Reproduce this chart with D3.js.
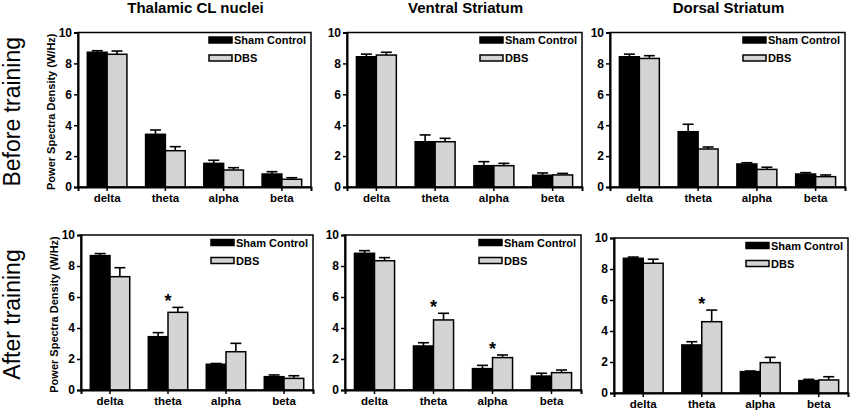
<!DOCTYPE html>
<html>
<head>
<meta charset="UTF-8">
<script src="https://d3js.org/d3.v7.min.js"></script>
<style>
  body { margin: 0; background: #fff; }
  text { font-family: Arial, "Liberation Sans", sans-serif; fill: #000; }
</style>
</head>
<body>
<svg id="chart" width="851" height="413"></svg>
<script>
// data
const bands = ["delta", "theta", "alpha", "beta"];
const regions = ["Thalamic CL nuclei", "Ventral Striatum", "Dorsal Striatum"];
const phases = ["Before training", "After training"];
const groups = ["Sham Control", "DBS"];
const yTicks = [0, 2, 4, 6, 8, 10];

// [region][band]
const shamBefore    = [[8.72, 3.41, 1.53, 0.84], [8.43, 2.93, 1.38, 0.76], [8.43, 3.58, 1.49, 0.84]];
const shamBeforeErr = [[0.10, 0.28, 0.20, 0.15], [0.17, 0.44, 0.26, 0.15], [0.17, 0.48, 0.08, 0.09]];
const dbsBefore     = [[8.59, 2.35, 1.10, 0.50], [8.54, 2.93, 1.38, 0.78], [8.32, 2.46, 1.14, 0.67]];
const dbsBeforeErr  = [[0.21, 0.26, 0.15, 0.10], [0.18, 0.22, 0.15, 0.10], [0.18, 0.13, 0.14, 0.11]];
const shamAfter     = [[8.67, 3.44, 1.66, 0.86], [8.82, 2.84, 1.38, 0.90], [8.69, 3.10, 1.38, 0.80]];
const shamAfterErr  = [[0.13, 0.26, 0.05, 0.11], [0.17, 0.21, 0.21, 0.18], [0.08, 0.21, 0.04, 0.08]];
const dbsAfter      = [[7.31, 5.01, 2.47, 0.75], [8.34, 4.52, 2.09, 1.12], [8.37, 4.60, 1.96, 0.84]];
const dbsAfterErr   = [[0.58, 0.32, 0.54, 0.17], [0.20, 0.43, 0.17, 0.17], [0.26, 0.75, 0.34, 0.21]];

// significance marks: [phase, region, band]
const stars = [[1, 0, "theta"], [1, 1, "theta"], [1, 1, "alpha"], [1, 2, "theta"]];

const svg = d3.select("#chart");

// plot boxes [row][col]
const boxes = [
  [{x0: 78, x1: 311, y0: 32.5, y1: 187}, {x0: 347, x1: 582, y0: 32.5, y1: 187}, {x0: 610, x1: 845, y0: 32.5, y1: 187}],
  [{x0: 81, x1: 313, y0: 235, y1: 390}, {x0: 345, x1: 581, y0: 235, y1: 390}, {x0: 614, x1: 848, y0: 238, y1: 393}]
];

const means = [[shamBefore, dbsBefore], [shamAfter, dbsAfter]];
const errs = [[shamBeforeErr, dbsBeforeErr], [shamAfterErr, dbsAfterErr]];
const fills = ["#000", "#d4d4d4"];

// row labels
phases.forEach((p, r) => {
  const b = boxes[r][0];
  svg.append("text")
    .attr("transform", `translate(20,${(b.y0 + b.y1) / 2 + 2}) rotate(-90)`)
    .attr("text-anchor", "middle")
    .style("font-size", "23px")
    .text(p);
});

// column titles
regions.forEach((t, c) => {
  const b = boxes[0][c];
  svg.append("text")
    .attr("x", (b.x0 + b.x1) / 2 + 1)
    .attr("y", 13)
    .attr("text-anchor", "middle")
    .style("font-size", "15px")
    .style("font-weight", "bold")
    .text(t);
});

phases.forEach((p, r) => {
  regions.forEach((reg, c) => {
    const b = boxes[r][c];
    const g = svg.append("g");

    const x = d3.scaleBand().domain(bands).range([b.x0, b.x1])
      .paddingInner(0.32).paddingOuter(0.16);
    const xs = d3.scaleBand().domain(groups).range([0, x.bandwidth()]);
    const y = d3.scaleLinear().domain([0, 10]).range([b.y1, b.y0]);

    // frame
    g.append("rect")
      .attr("x", b.x0).attr("y", b.y0)
      .attr("width", b.x1 - b.x0).attr("height", b.y1 - b.y0)
      .attr("fill", "none").attr("stroke", "#000").attr("stroke-width", 1.5);

    // error bars (upper only)
    groups.forEach((grp, s) => {
      bands.forEach((band, i) => {
        const m = means[r][s][c][i], e = errs[r][s][c][i];
        const cx = x(band) + xs(grp) + xs.bandwidth() / 2;
        g.append("line")
          .attr("x1", cx).attr("x2", cx)
          .attr("y1", y(m)).attr("y2", y(m + e))
          .attr("stroke", "#000").attr("stroke-width", 1.6);
        g.append("line")
          .attr("x1", cx - 5.5).attr("x2", cx + 5.5)
          .attr("y1", y(m + e)).attr("y2", y(m + e))
          .attr("stroke", "#000").attr("stroke-width", 1.6);
      });
    });

    // bars
    groups.forEach((grp, s) => {
      g.selectAll(null)
        .data(bands.map((band, i) => ({band, v: means[r][s][c][i]})))
        .enter().append("rect")
        .attr("x", d => x(d.band) + xs(grp))
        .attr("y", d => y(d.v))
        .attr("width", xs.bandwidth())
        .attr("height", d => y(0) - y(d.v))
        .attr("fill", fills[s])
        .attr("stroke", "#000")
        .attr("stroke-width", 1.5);
    });

    // axes
    const ya = g.append("g")
      .attr("transform", `translate(${b.x0},0)`)
      .call(d3.axisLeft(y).tickValues(yTicks).tickSize(4).tickPadding(2));
    const xa = g.append("g")
      .attr("transform", `translate(0,${b.y1})`)
      .call(d3.axisBottom(x).tickSize(4).tickPadding(3));
    [ya, xa].forEach(a => {
      a.select(".domain").attr("stroke-width", 2).attr("stroke", "#000");
      a.selectAll(".tick line").attr("stroke-width", 1.5).attr("stroke", "#000");
      a.selectAll(".tick text")
        .style("font-family", "Arial, 'Liberation Sans', sans-serif")
        .style("font-weight", "bold").attr("fill", "#000");
    });
    ya.selectAll(".tick text").style("font-size", "12px");
    xa.selectAll(".tick text").style("font-size", "11.5px");

    // y label on first column
    if (c === 0) {
      g.append("text")
        .attr("transform", `translate(${b.x0 - 23},${(b.y0 + b.y1) / 2 + 2}) rotate(-90)`)
        .attr("text-anchor", "middle")
        .style("font-size", "11px")
        .style("font-weight", "bold")
        .text("Power Spectra Density (W/Hz)");
    }

    // legend
    groups.forEach((grp, s) => {
      const ly = b.y0 + 4.5 + s * 18;
      g.append("rect")
        .attr("x", b.x1 - 102).attr("y", ly)
        .attr("width", 23).attr("height", 6)
        .attr("fill", fills[s]).attr("stroke", "#000").attr("stroke-width", 1.5);
      g.append("text")
        .attr("x", b.x1 - 77).attr("y", ly + 7)
        .style("font-size", "11px")
        .style("font-weight", "bold")
        .text(grp);
    });

    // significance stars
    stars.filter(st => st[0] === r && st[1] === c).forEach(st => {
      const i = bands.indexOf(st[2]);
      const top = Math.max(...groups.map((grp, s) => means[r][s][c][i] + errs[r][s][c][i]));
      g.append("text")
        .attr("x", x(st[2]) + x.bandwidth() / 2)
        .attr("y", y(top) - 0)
        .attr("text-anchor", "middle")
        .style("font-size", "18px")
        .style("font-weight", "bold")
        .text("*");
    });
  });
});
</script>
</body>
</html>
